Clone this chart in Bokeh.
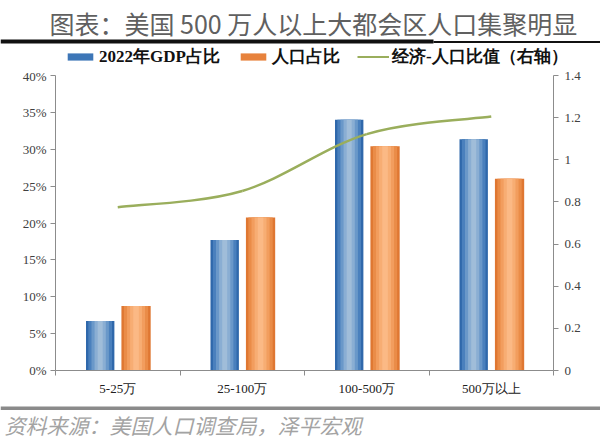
import numpy as np
from bokeh.plotting import figure
from bokeh.layouts import column
from bokeh.models import (Range1d, LinearAxis, FixedTicker, NumeralTickFormatter,
                          CustomJSTickFormatter, Legend, LegendItem)
from bokeh.core.properties import value
from bokeh.transform import dodge
from bokeh.embed import file_html
from bokeh.resources import INLINE

categories = ["5-25万", "25-100万", "100-500万", "500万以上"]
gdp_share = [0.067, 0.177, 0.340, 0.3135]
pop_share = [0.0875, 0.2075, 0.304, 0.260]
ratio = [0.775, 0.852, 1.122, 1.205]

left_ticks = [0, 0.05, 0.10, 0.15, 0.20, 0.25, 0.30, 0.35, 0.40]
right_ticks = [0, 0.2, 0.4, 0.6, 0.8, 1.0, 1.2, 1.4]

title_text = "图表：美国 500 万人以上大都会区人口集聚明显"
source_text = "资料来源：美国人口调查局，泽平宏观"
legend_labels = ["2022年GDP占比", "人口占比", "经济-人口比值（右轴）"]

SERIF = "Liberation Serif"
CJK = "Noto Sans CJK SC"
BLUE, ORANGE, GREEN = "#3d76b7", "#e7823c", "#9aae5c"
W = 600
TOP_H, MAIN_H, BOT_H = 68, 332, 48


def deco_fig(h):
    f = figure(width=W, height=h, output_backend="svg", toolbar_location=None,
               x_range=Range1d(0, W), y_range=Range1d(h, 0),
               x_axis_type=None, y_axis_type=None, min_border=0,
               min_border_left=0, min_border_right=0, min_border_top=0, min_border_bottom=0,
               outline_line_color=None, sizing_mode="fixed")
    f.xgrid.grid_line_color = None
    f.ygrid.grid_line_color = None
    return f


# ---------- top: title + rule + legend ----------
top = deco_fig(TOP_H)
top.text(x=[49], y=[22], text=[title_text], text_font=value(CJK), text_font_size="25px",
         text_color="#606060", text_baseline="middle", text_align="left")
top.quad(left=[0], right=[433], top=[39], bottom=[43], fill_color="#111111", line_color=None)
top.quad(left=[433], right=[600], top=[40.5], bottom=[42.5], fill_color="#111111", line_color=None)
lg_b = top.vbar(x=[-500], top=[-500], width=1, fill_color=BLUE, line_color=None)
lg_o = top.vbar(x=[-500], top=[-500], width=1, fill_color=ORANGE, line_color=None)
lg_l = top.line(x=[-500, -499], y=[-500, -500], line_color=GREEN, line_width=2)
legend = Legend(items=[LegendItem(label=legend_labels[0], renderers=[lg_b]),
                       LegendItem(label=legend_labels[1], renderers=[lg_o]),
                       LegendItem(label=legend_labels[2], renderers=[lg_l])],
                orientation="horizontal", location=(64, 0),
                border_line_color=None, background_fill_alpha=0,
                label_text_font=SERIF, label_text_font_style="bold",
                label_text_font_size="17px", label_text_color="#111111",
                glyph_width=32, glyph_height=9, label_height=14, spacing=17, label_standoff=3,
                padding=0, margin=0)
top.add_layout(legend, "center")

# ---------- main chart ----------
x = np.arange(len(categories)) + 0.5
p = figure(width=W, height=MAIN_H, output_backend="svg", toolbar_location=None,
           x_range=Range1d(0, len(categories)), y_range=Range1d(0, 0.40),
           min_border_left=55, min_border_right=47, min_border_top=7, min_border_bottom=30,
           outline_line_color=None, sizing_mode="fixed")
p.xgrid.grid_line_color = None
p.ygrid.grid_line_color = None
p.extra_y_ranges = {"right": Range1d(0, 1.4)}

ya = p.yaxis[0]
ya.ticker = FixedTicker(ticks=left_ticks)
ya.formatter = NumeralTickFormatter(format="0%")
ra = LinearAxis(y_range_name="right")
ra.ticker = FixedTicker(ticks=right_ticks)
ra.formatter = CustomJSTickFormatter(code="return String(Number(tick.toFixed(1)));")
p.add_layout(ra, "right")
for ax in (ya, ra):
    ax.axis_line_color = "#8c8c8c"
    ax.major_tick_line_color = "#8c8c8c"
    ax.major_tick_out = 5
    ax.major_tick_in = 0
    ax.minor_tick_line_color = None
    ax.major_label_text_font = SERIF
    ax.major_label_text_font_size = "13px"
    ax.major_label_text_color = "#404040"
ya.major_label_standoff = 4
ra.major_label_standoff = 6

xa = p.xaxis[0]
xa.ticker = FixedTicker(ticks=list(x), minor_ticks=list(range(len(categories) + 1)))
xa.major_label_overrides = {float(v): c for v, c in zip(x, categories)}
xa.major_tick_line_color = None
xa.minor_tick_line_color = "#8c8c8c"
xa.minor_tick_out = 5
xa.minor_tick_in = 0
xa.axis_line_color = "#8c8c8c"
xa.major_label_text_font = SERIF
xa.major_label_text_font_size = "13px"
xa.major_label_text_color = "#202020"
xa.major_label_standoff = 4

src = dict(x=x, gdp=gdp_share, pop=pop_share)
blue_layers = [("#2f68ab", 0.228), ("#4a80bd", 0.19), ("#6a98c9", 0.14), ("#8aaed3", 0.09), ("#a0bdd9", 0.04)]
orange_layers = [("#df7732", 0.235), ("#ea8c48", 0.195), ("#f29d5e", 0.145), ("#f7ad73", 0.095), ("#fbb985", 0.045)]

for c, w in blue_layers:
    p.vbar(x=dodge("x", -0.141), top="gdp", width=w, source=src, fill_color=c, line_color=None)
for c, w in orange_layers:
    p.vbar(x=dodge("x", 0.147), top="pop", width=w, source=src, fill_color=c, line_color=None)

# smooth line through the ratio points (Catmull-Rom -> cubic bezier)
xs = list(x)
ys = list(ratio)
n = len(xs)
seg = dict(x0=[], y0=[], x1=[], y1=[], cx0=[], cy0=[], cx1=[], cy1=[])
for i in range(n - 1):
    xp, yp = (xs[i - 1], ys[i - 1]) if i > 0 else (xs[i], ys[i])
    xn, yn = (xs[i + 2], ys[i + 2]) if i + 2 < n else (xs[i + 1], ys[i + 1])
    seg["x0"].append(xs[i]); seg["y0"].append(ys[i])
    seg["x1"].append(xs[i + 1]); seg["y1"].append(ys[i + 1])
    seg["cx0"].append(xs[i] + (xs[i + 1] - xp) / 6); seg["cy0"].append(ys[i] + (ys[i + 1] - yp) / 6)
    seg["cx1"].append(xs[i + 1] - (xn - xs[i]) / 6); seg["cy1"].append(ys[i + 1] - (yn - ys[i]) / 6)
p.bezier(**seg, y_range_name="right", line_color=GREEN, line_width=2.5)

# ---------- bottom: rule + source ----------
bot = deco_fig(BOT_H)
bot.quad(left=[0], right=[600], top=[6], bottom=[9.5], fill_color="#8a8a8a", line_color=None)
bot.text(x=[4], y=[24], text=[source_text], text_font=value(CJK), text_font_size="21px",
         text_font_style="italic", text_color="#a3a3a3", text_baseline="middle")

layout = column(top, column(p, sizing_mode="fixed"), bot, spacing=0, sizing_mode="fixed")
open("out.html", "w").write(file_html(layout, INLINE))
